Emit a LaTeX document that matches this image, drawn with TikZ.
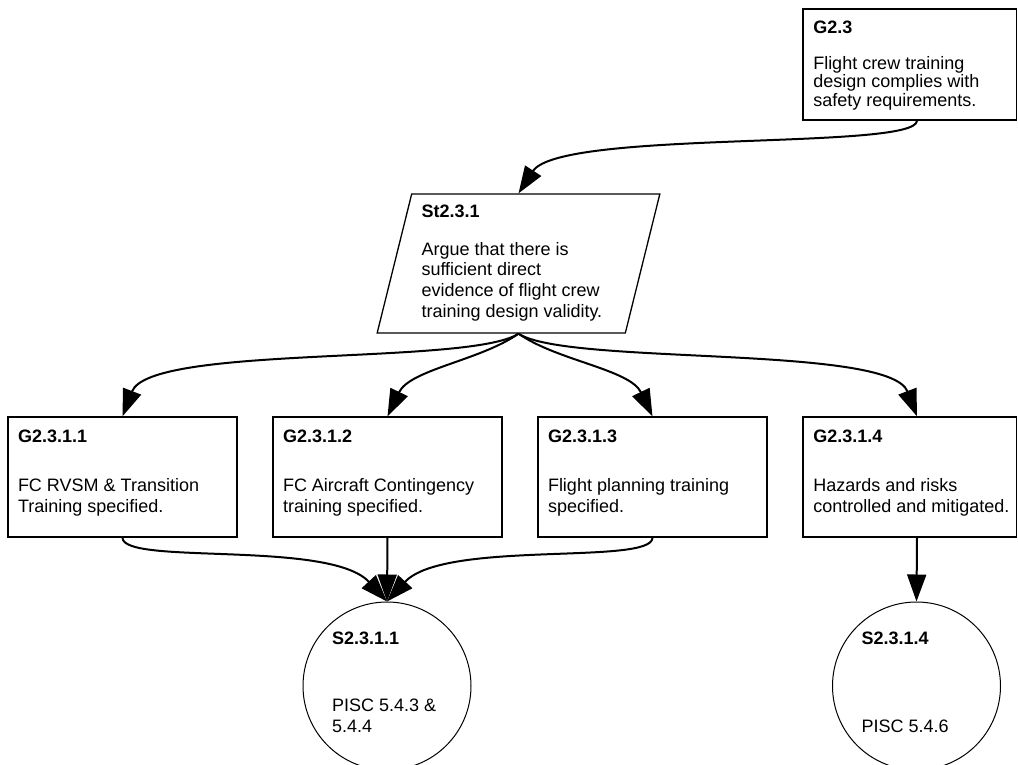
\documentclass[tikz,border=0pt]{standalone}
\usepackage{fontspec}
\setmainfont{Liberation Sans}
\usetikzlibrary{arrows.meta,shapes.geometric}
\tikzset{
        >={Triangle[length=27pt,width=19pt]},
        goal/.style = {draw, line width=1.3pt, inner sep=0pt, minimum width=229pt, minimum height=120pt},
        strat/.style = {draw, line width=1.3pt, trapezium, trapezium left angle=75, trapezium right angle=105, trapezium stretches=true, inner sep=0pt, minimum width=283pt, minimum height=139pt},
        soln/.style = {draw, line width=1pt, circle, inner sep=0pt, minimum size=168pt},
        link/.style = {->, line width=2pt}
}

\begin{document}
\begin{tikzpicture}[x=1pt, y=-1pt, font=\fontsize{18}{21.5}\selectfont]

        \useasboundingbox (0,0) rectangle (1018,764);

        % Top goal and strategy
        \node[goal, minimum width=213.5pt, minimum height=111pt] (g23) at (909.75,64.5) {\parbox[c][88pt][t]{193pt}{\fontsize{18}{18.7}\selectfont\raggedright\textbf{G2.3}\\[17.3pt]Flight crew training\\design complies with\\safety requirements.}};
        \node[strat] (st231) at (518.5,263.5) {\parbox[c][117pt][t]{194pt}{\fontsize{18}{20.8}\selectfont\raggedright\textbf{St2.3.1}\\[16.8pt]Argue that there is\\sufficient direct\\evidence of flight crew\\training design validity.}};

        % Sub-goals
        \node[goal] (g2311) at (122.5,477) {\parbox[c][94pt][t]{209pt}{\raggedright\textbf{G2.3.1.1}\\[27pt]FC RVSM \& Transition\\Training specified.}};
        \node[goal] (g2312) at (387.5,477) {\parbox[c][94pt][t]{209pt}{\raggedright\textbf{G2.3.1.2}\\[27pt]FC Aircraft Contingency\\training specified.}};
        \node[goal] (g2313) at (652.5,477) {\parbox[c][94pt][t]{209pt}{\raggedright\textbf{G2.3.1.3}\\[27pt]Flight planning training\\specified.}};
        \node[goal, minimum width=213.5pt] (g2314) at (909.75,477) {\parbox[c][94pt][t]{193pt}{\raggedright\textbf{G2.3.1.4}\\[27pt]Hazards and risks\\\mbox{controlled and mitigated.}}};

        % Solutions
        \node[soln] (s2311) at (387,686) {\parbox[c][108pt][t]{110pt}{\raggedright\textbf{S2.3.1.1}\\[45.2pt]PISC 5.4.3 \&\\5.4.4}};
        \node[soln] (s2314) at (916.5,686) {\parbox[c][108pt][t]{110pt}{\raggedright\textbf{S2.3.1.4}\\[66.5pt]PISC 5.4.6}};

        % Links
        \draw [link] ([xshift=7.25pt]g23.south) .. controls +(0,30) and +(41.5,-64) .. (st231.north);
        \draw [link] (st231.south) .. controls +(-48.5,32) and +(27.5,-72) .. (g2311.north);
        \draw [link] (st231.south) .. controls +(-38.5,27) and +(22.5,-47) .. (g2312.north);
        \draw [link] (st231.south) .. controls +(38.5,27) and +(-22.5,-47) .. (g2313.north);
        \draw [link] (st231.south) .. controls +(48.5,32) and +(-27.5,-72) .. ([xshift=7.25pt]g2314.north);
        \draw [link] (g2311.south) .. controls +(0,28) and +(-57,-62) .. (s2311.north);
        \draw [link] (g2312.south) -- (s2311.north);
        \draw [link] (g2313.south) .. controls +(0,28) and +(57,-62) .. (s2311.north);
        \draw [link] ([xshift=7.25pt]g2314.south) -- (s2314.north);

\end{tikzpicture}
\end{document}
